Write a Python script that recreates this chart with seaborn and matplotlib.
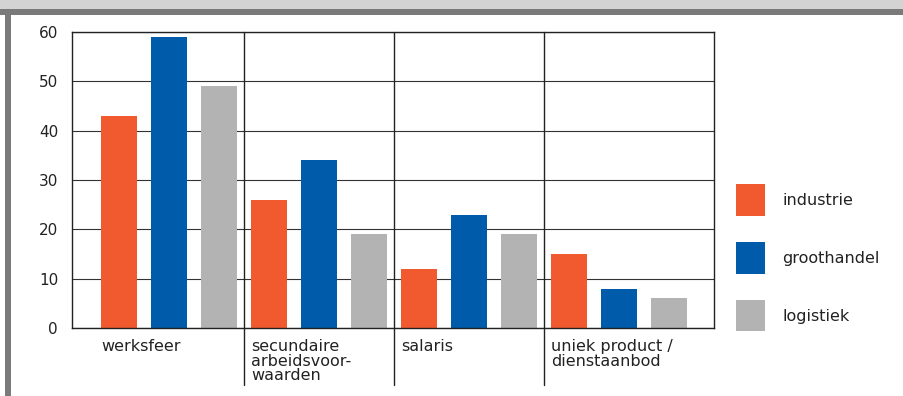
import matplotlib
matplotlib.use("Agg")
import matplotlib.pyplot as plt
import seaborn as sns
import pandas as pd
import numpy as np
from matplotlib.patches import Rectangle

categories = ["werksfeer", "secundaire\narbeidsvoor-\nwaarden", "salaris", "uniek product /\ndienstaanbod"]
series_names = ["industrie", "groothandel", "logistiek"]
industrie = [43, 26, 12, 15]
groothandel = [59, 34, 23, 8]
logistiek = [49, 19, 19, 6]
yticks = [0, 10, 20, 30, 40, 50, 60]
colors = ["#F15A2E", "#005BAA", "#B3B3B3"]

rows = []
for name, vals in zip(series_names, [industrie, groothandel, logistiek]):
    for c, v in zip(categories, vals):
        rows.append({"cat": c, "serie": name, "val": v})
df = pd.DataFrame(rows)

sns.set_theme(style="white")
plt.rcParams['font.family'] = ['DejaVu Sans']
plt.rcParams['text.color'] = '#222222'

fig = plt.figure(figsize=(9.04, 3.96), dpi=100)
W, H = 904, 396
ax = fig.add_axes([72 / W, (H - 328) / H, 642 / W, 296 / H])

sns.barplot(data=df, x="cat", y="val", hue="serie", order=categories,
            hue_order=series_names, palette=colors, width=1.0, gap=0.28,
            saturation=1, ax=ax, legend=True, linewidth=0)

ax.set_xlim(-0.647, 3.633)
ax.set_ylim(0, 60)
ax.set_yticks(yticks)
ax.set_yticklabels([str(t) for t in yticks], fontsize=11)
ax.tick_params(axis='y', length=0, pad=10, colors='#222222')
ax.set_xticks(np.arange(len(categories)) - 0.453)
ax.set_xticklabels(categories, ha='left', va='top', fontsize=11.5,
                   linespacing=0.95)
ax.tick_params(axis='x', length=0, pad=8, colors='#222222')
ax.set_xlabel("")
ax.set_ylabel("")

for s in ax.spines.values():
    s.set_visible(True)
    s.set_color('#222222')
    s.set_linewidth(1.0)

ax.yaxis.grid(True, color='#333333', linewidth=0.8)
ax.set_axisbelow(True)

for xb in [0.5, 1.5, 2.5]:
    ax.plot([xb, xb], [1.0, -0.193], transform=ax.get_xaxis_transform(),
            color='#222222', lw=1.0, clip_on=False, zorder=5)

leg = ax.legend(loc='upper left', bbox_to_anchor=(1.034, 0.485), frameon=False,
                fontsize=11.5, handlelength=1.82, handleheight=2.65,
                labelspacing=1.65, handletextpad=1.1, borderaxespad=0,
                borderpad=0)
for t in leg.get_texts():
    t.set_color('#222222')

# frame decorations
fig.patches.append(Rectangle((0, 1 - 9 / H), 1, 9 / H, transform=fig.transFigure,
                             facecolor='#D3D3D3', edgecolor='none', zorder=0))
fig.patches.append(Rectangle((0, 1 - 15 / H), 1, 6 / H, transform=fig.transFigure,
                             facecolor='#7A7A7A', edgecolor='none', zorder=0))
fig.patches.append(Rectangle((5 / W, 0), 6 / W, 1 - 9 / H, transform=fig.transFigure,
                             facecolor='#7A7A7A', edgecolor='none', zorder=0))

fig.savefig("out.png", dpi=100)
